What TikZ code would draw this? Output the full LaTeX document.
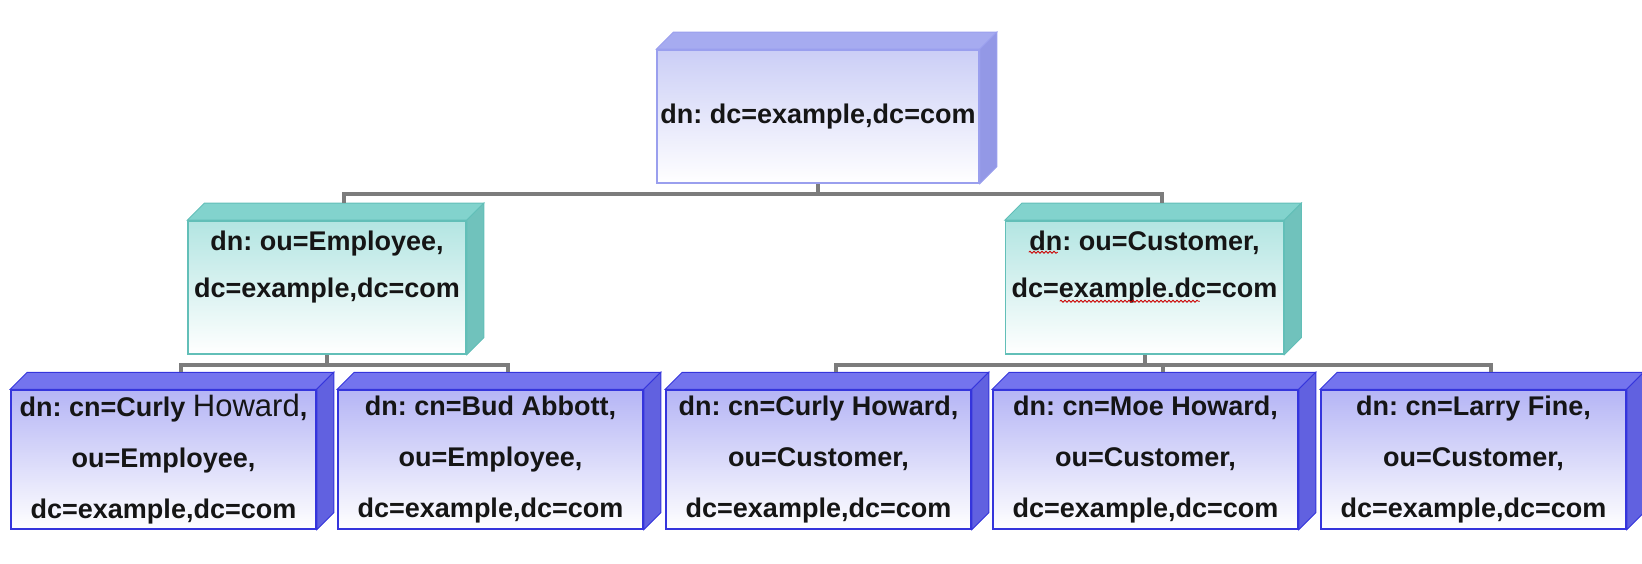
\documentclass[tikz,border=0pt]{standalone}
\usepackage{fontspec}
\setmainfont{Liberation Sans}
\usepackage{xcolor}
\usetikzlibrary{calc,backgrounds,decorations.pathmorphing}
\frenchspacing

\definecolor{topfront}{HTML}{CBCEF6}
\definecolor{topface}{HTML}{A6ABF0}
\definecolor{topside}{HTML}{9398E6}
\definecolor{topline}{HTML}{9A9FEE}
\definecolor{oufront}{HTML}{B3E5E2}
\definecolor{ouface}{HTML}{82D3CD}
\definecolor{ouside}{HTML}{70C2BC}
\definecolor{ouline}{HTML}{62BFB8}
\definecolor{cnfront}{HTML}{B5B5F5}
\definecolor{cnface}{HTML}{7474EE}
\definecolor{cnside}{HTML}{6161E0}
\definecolor{cnline}{HTML}{3535DC}
\definecolor{busgray}{HTML}{7C7C7C}
\definecolor{ink}{HTML}{151515}

\tikzset{
  entry/.style={draw, line width=1.5pt, align=center, text=ink, inner sep=0pt, bottom color=white},
  dcbox/.style={entry, draw=topline, top color=topfront, minimum width=322pt, minimum height=133pt,
    font=\bfseries\fontsize{27}{50}\selectfont},
  oubox/.style={entry, draw=ouline, top color=oufront, minimum width=278pt, minimum height=133pt,
    font=\bfseries\fontsize{27}{47}\selectfont},
  cnbox/.style={entry, draw=cnline, top color=cnfront, minimum width=305pt, minimum height=139pt,
    font=\bfseries\fontsize{27}{51}\selectfont},
  bus/.style={busgray, line width=4pt},
  spell/.style={red!80!black, line width=0.8pt, decorate, decoration={snake, amplitude=1pt, segment length=4pt}},
}

\begin{document}
\begin{tikzpicture}[x=1pt,y=-1pt]
        \useasboundingbox (0,0) rectangle (1642,564);
        %ROOT
        \node[dcbox] (dc) at (818,116.5) {dn: dc=example,dc=com};
        %OU
        \node[oubox] (emp) at (327,287.5) {dn: ou=Employee,\\dc=example,dc=com\\~};
        \node[oubox] (cust) at (1144.5,287.5) {dn: ou=Customer,\\dc=example.dc=com\\~};
        %CN
        \node[cnbox] (curlyE) at (163.5,459.5) {dn: cn=Curly {\mdseries\fontsize{31}{51}\selectfont Howard},\\ou=Employee,\\dc=example,dc=com};
        \node[cnbox] (bud) at (490.5,459.5) {dn: cn=Bud Abbott,\\ou=Employee,\\dc=example,dc=com};
        \node[cnbox] (curlyC) at (818.5,459.5) {dn: cn=Curly Howard,\\ou=Customer,\\dc=example,dc=com};
        \node[cnbox] (moe) at (1145.5,459.5) {dn: cn=Moe Howard,\\ou=Customer,\\dc=example,dc=com};
        \node[cnbox] (larry) at (1473.5,459.5) {dn: cn=Larry Fine,\\ou=Customer,\\dc=example,dc=com};
        %DEPTH
        \begin{scope}[on background layer]
        \foreach \n/\f/\s/\l in {dc/topface/topside/topline, emp/ouface/ouside/ouline, cust/ouface/ouside/ouline,
                curlyE/cnface/cnside/cnline, bud/cnface/cnside/cnline, curlyC/cnface/cnside/cnline,
                moe/cnface/cnside/cnline, larry/cnface/cnside/cnline}{
            \coordinate (\n-back) at ($(\n.north)+(17,-17)$);
            \filldraw[fill=\f, draw=\l, line width=1pt] (\n.north west) -- ++(17,-17) -- ($(\n.north east)+(17,-17)$) -- (\n.north east) -- cycle;
            \filldraw[fill=\s, draw=\l, line width=1pt] (\n.north east) -- ++(17,-17) -- ($(\n.south east)+(17,-17)$) -- (\n.south east) -- cycle;
        }
        %TREE
        \draw[bus] (dc.south) -- ++(0,10) coordinate (dc-bus) -| (emp-back);
        \draw[bus] (dc-bus) -| (cust-back);
        \draw[bus] (emp.south) -- ++(0,10) coordinate (emp-bus) -| (curlyE-back);
        \draw[bus] (emp-bus) -| (bud-back);
        \draw[bus] (cust.south) -- ++(0,10) coordinate (cust-bus) -| (curlyC-back);
        \draw[bus] (cust-bus) -| (moe-back);
        \draw[bus] (cust-bus) -| (larry-back);
        \end{scope}
        %SPELLING MARKS
        \draw[spell] ($(cust.north west)+(24,32)$) -- ($(cust.north west)+(53,32)$);
        \draw[spell] ($(cust.north west)+(55,81)$) -- ($(cust.north west)+(195,81)$);
    \end{tikzpicture}
\end{document}
